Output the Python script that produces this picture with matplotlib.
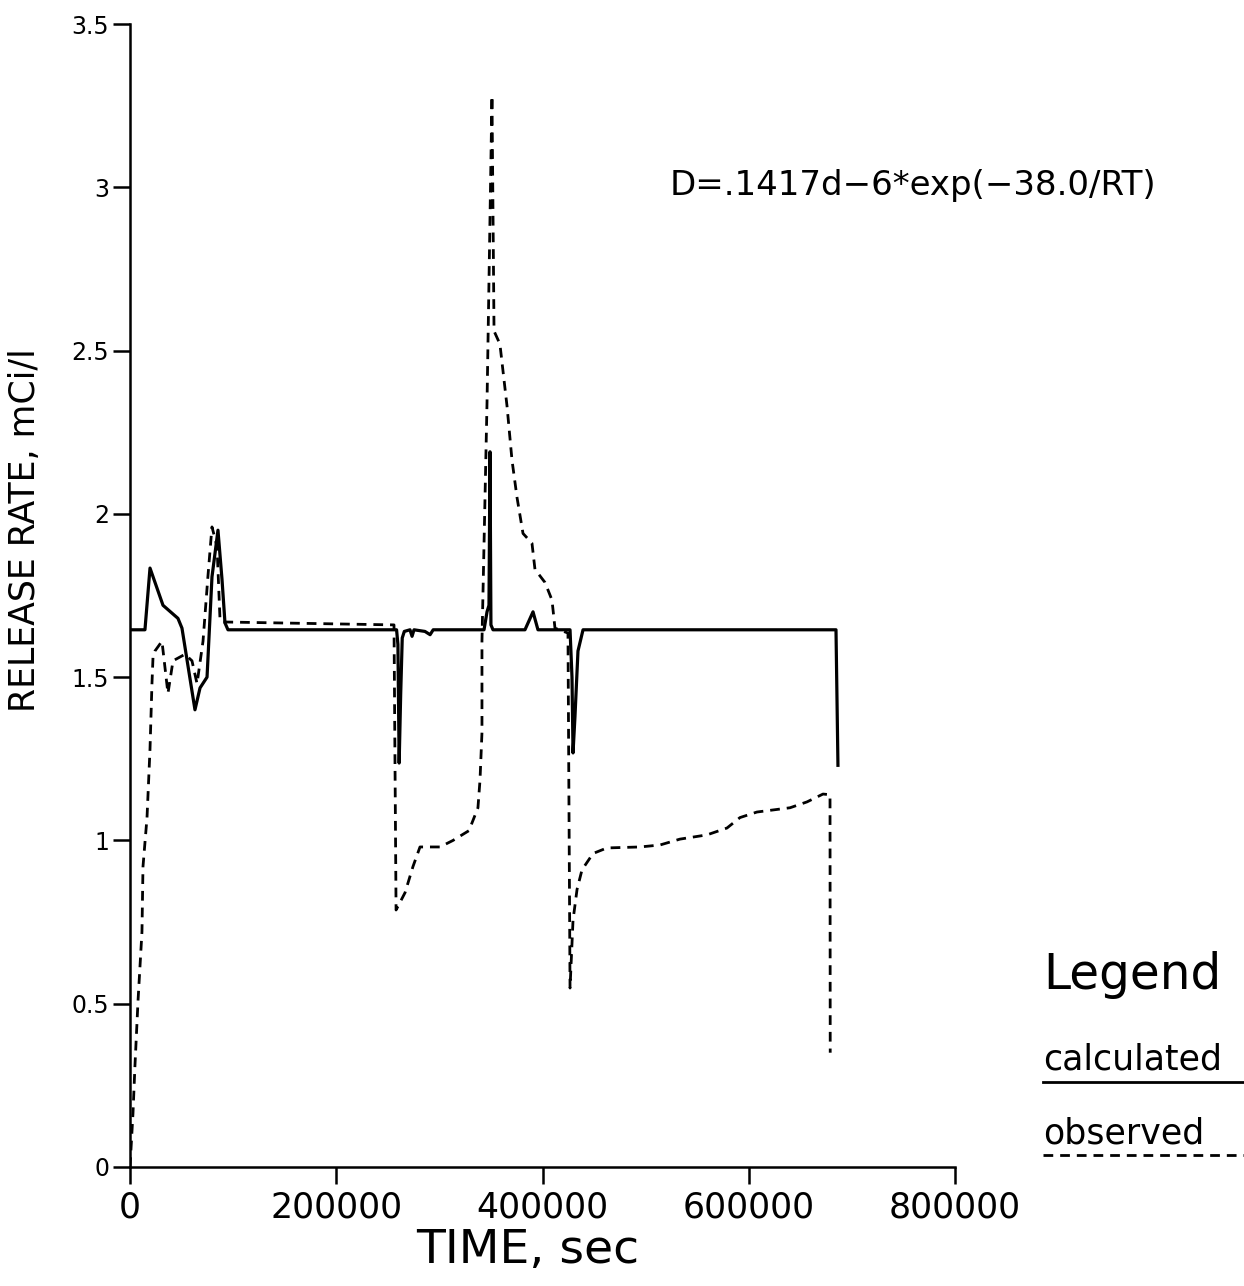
import matplotlib
matplotlib.use("Agg")
import matplotlib.pyplot as plt
from matplotlib.lines import Line2D

# calculated release rate (solid)
calc_t = [0, 14500, 19400, 32000, 46500, 50400, 63000, 67900, 74700, 79500, 85300,
          89200, 92100, 95000, 258500, 259800, 261000, 262500, 264000, 266000, 271500,
          273500, 275400, 286000, 291000, 294000, 343300, 346200, 348100, 349100, 350000,
          352000, 383000, 390800, 395600, 426700, 428600, 429600, 431500, 434400, 439300,
          684600, 686500]
calc_v = [1.645, 1.645, 1.834, 1.72, 1.68, 1.65, 1.40, 1.467, 1.50, 1.807, 1.95,
          1.80, 1.666, 1.645, 1.645, 1.60, 1.237, 1.45, 1.62, 1.64, 1.645,
          1.625, 1.645, 1.64, 1.63, 1.645, 1.645, 1.70, 1.72, 2.19, 1.66,
          1.645, 1.645, 1.70, 1.645, 1.645, 1.50, 1.268, 1.38, 1.58, 1.645,
          1.645, 1.23]

# observed release rate (dashed)
obs_t = [0, 2900, 4800, 7800, 11600, 12600, 16500, 19400, 21300, 22300, 24200,
         31000, 36800, 41700, 53300, 60100, 65000, 70800, 75600, 79500, 84400,
         87300, 89200, 256000, 258000, 266700, 274400, 281200, 300600, 313200,
         328700, 337400, 339400, 341300, 341300, 346200, 351000, 353000, 358700,
         365600, 370400, 375300, 381100, 389800, 392700, 402400, 409200, 412100,
         424700, 426700, 429600, 433500, 438300, 449000, 462500, 494500, 513900,
         533300, 559500, 578900, 591500, 608000, 640000, 656500, 672000, 678800,
         679000]
obs_v = [0.0, 0.165, 0.31, 0.51, 0.72, 0.92, 1.07, 1.28, 1.48, 1.56, 1.58,
         1.61, 1.45, 1.55, 1.57, 1.55, 1.48, 1.61, 1.81, 1.96, 1.90,
         1.675, 1.669, 1.66, 0.787, 0.84, 0.92, 0.98, 0.98, 1.0,
         1.03, 1.10, 1.185, 1.33, 1.61, 2.34, 3.28, 2.56, 2.52,
         2.33, 2.165, 2.05, 1.94, 1.91, 1.83, 1.79, 1.736, 1.65,
         1.635, 0.548, 0.756, 0.85, 0.91, 0.96, 0.977, 0.98, 0.986,
         1.004, 1.017, 1.038, 1.07, 1.087, 1.10, 1.118, 1.142, 1.14,
         0.35]

x_ticks = [0, 200000, 400000, 600000, 800000]
y_ticks = [0, 0.5, 1, 1.5, 2, 2.5, 3, 3.5]
y_tick_labels = ["0", "0.5", "1", "1.5", "2", "2.5", "3", "3.5"]

plt.rcParams["font.family"] = ["DejaVu Sans"]

fig = plt.figure(figsize=(12.44, 12.86), dpi=100)
ax = fig.add_axes([130 / 1244, 119 / 1286, 825 / 1244, 1143 / 1286])

ax.plot(calc_t, calc_v, color="black", lw=2.3, solid_joinstyle="round")
ax.plot(obs_t, obs_v, color="black", lw=2.0, linestyle=(0, (3.5, 2.5)))

ax.set_xlim(0, 800000)
ax.set_ylim(0, 3.5)
ax.set_xticks(x_ticks)
ax.set_xticklabels([str(v) for v in x_ticks], fontsize=25)
ax.set_yticks(y_ticks)
ax.set_yticklabels(y_tick_labels, fontsize=17)
ax.tick_params(axis="both", direction="out", length=12, width=1.8, color="black")
ax.tick_params(axis="x", pad=5)
ax.tick_params(axis="y", pad=3)
for side in ("top", "right"):
    ax.spines[side].set_visible(False)
for side in ("left", "bottom"):
    ax.spines[side].set_linewidth(1.8)

ax.set_xlabel("TIME, sec", fontsize=34)
ax.xaxis.set_label_coords((528 - 130) / 825, (1167 - 1228) / 1143)
ax.set_ylabel("RELEASE RATE, mCi/l", fontsize=25)
ax.yaxis.set_label_coords((42 - 130) / 825, (1167 - 530) / 1143)

fig.text(670 / 1244, 1 - 186 / 1286, "D=.1417d\u22126*exp(\u221238.0/RT)",
         fontsize=24.5, va="center", ha="left")

# hand-drawn legend on the right
fig.text(1043 / 1244, 1 - 975 / 1286, "Legend", fontsize=35, va="center", ha="left")
fig.text(1043 / 1244, 1 - 1060 / 1286, "calculated", fontsize=25, va="center", ha="left")
fig.text(1043 / 1244, 1 - 1133 / 1286, "observed", fontsize=25, va="center", ha="left")
fig.add_artist(Line2D([1043 / 1244, 1], [1 - 1082 / 1286] * 2, color="black", lw=2,
                      transform=fig.transFigure))
fig.add_artist(Line2D([1043 / 1244, 1], [1 - 1155 / 1286] * 2, color="black", lw=2,
                      linestyle=(0, (3.5, 2.5)), transform=fig.transFigure))

fig.savefig("out.png", dpi=100)
